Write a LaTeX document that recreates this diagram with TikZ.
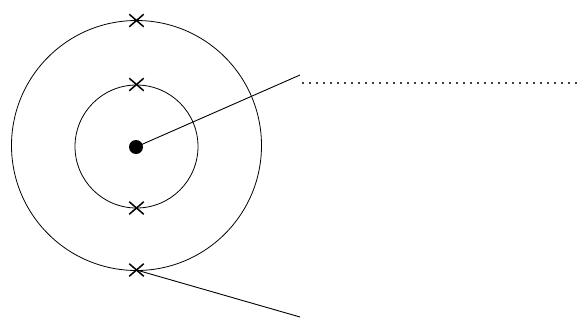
\documentclass[tikz,border=0pt]{standalone}
\usetikzlibrary{shapes.misc}
\begin{document}
\begin{tikzpicture}[x=1pt,y=-1pt,
  ring/.style={draw, circle, line width=0.8pt, inner sep=0pt},
  crossmark/.style={draw, cross out, line width=1.5pt, minimum width=13pt, minimum height=11pt, inner sep=0pt},
  thinline/.style={line width=0.9pt},
  dotline/.style={draw=black!75, line width=1.6pt, dash pattern=on 1.6pt off 5.4pt}]
\useasboundingbox (0,0) rectangle (582,325);
\node[ring, minimum size=250pt] (outer) at (136.5,145.5) {};
\node[ring, minimum size=123pt] (inner) at (136.5,146.5) {};
\node[circle, fill=black, minimum size=14pt, inner sep=0pt] (dot) at (136,147) {};
\node[crossmark] (x1) at (136.5,20.5) {};
\node[crossmark] (x2) at (136.5,84.5) {};
\node[crossmark] (x3) at (136.5,208) {};
\node[crossmark] (x4) at (136.5,270) {};
\coordinate (p1) at (300,75);
\coordinate (p2) at (300,317);
\coordinate (d1) at (302,83);
\coordinate (d2) at (582,83);
\draw[thinline] (dot.center) -- (p1);
\draw[thinline] (x4.center) -- (p2);
\draw[dotline] (d1) -- (d2);
\end{tikzpicture}
\end{document}
